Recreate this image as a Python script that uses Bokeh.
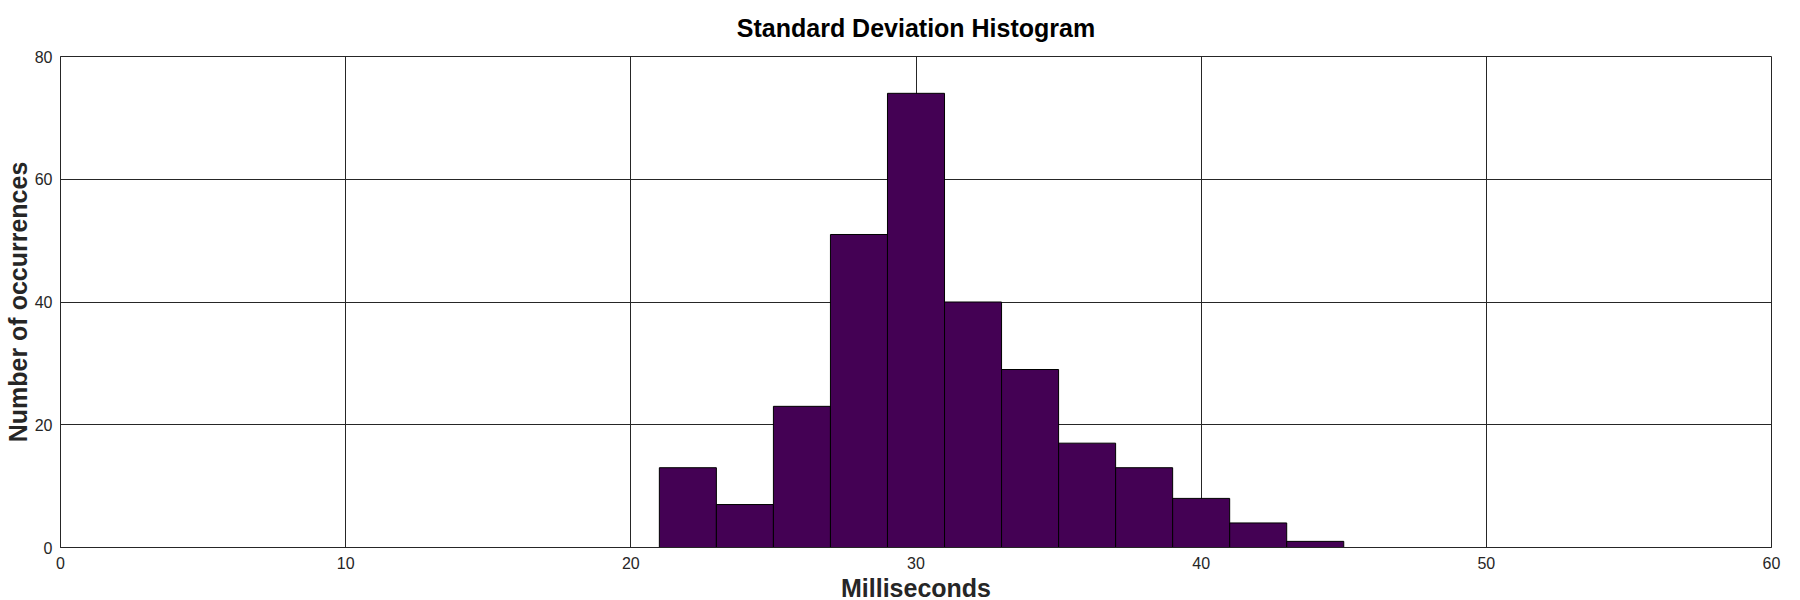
from bokeh.plotting import figure
from bokeh.models import Range1d, FixedTicker
from bokeh.embed import file_html
from bokeh.resources import INLINE

# Histogram data (bin edges in milliseconds, counts per bin)
bin_left = [21, 23, 25, 27, 29, 31, 33, 35, 37, 39, 41, 43]
bin_right = [23, 25, 27, 29, 31, 33, 35, 37, 39, 41, 43, 45]
counts = [13, 7, 23, 51, 74, 40, 29, 17, 13, 8, 4, 1]

x_ticks = [0, 10, 20, 30, 40, 50, 60]
y_ticks = [0, 20, 40, 60, 80]

FONT = "Liberation Sans"
TXT = "#262626"

p = figure(
    frame_width=1711, frame_height=491,
    x_range=Range1d(0, 60), y_range=Range1d(0, 80),
    output_backend="svg", toolbar_location=None,
    title="Standard Deviation Histogram",
    min_border_left=0, min_border_right=18, min_border_top=0, min_border_bottom=0,
)

p.quad(left=bin_left, right=bin_right, bottom=0, top=counts,
       fill_color="#440154", line_color="black", line_width=1)

p.title.align = "center"
p.title.vertical_align = "top"
p.title.text_font = FONT
p.title.text_font_size = "25px"
p.title.text_font_style = "bold"
p.title.text_color = "black"
p.title.text_line_height = 0.9
p.title.standoff = 26

p.xaxis.ticker = FixedTicker(ticks=x_ticks)
p.yaxis.ticker = FixedTicker(ticks=y_ticks)
p.xaxis.axis_label = "Milliseconds"
p.yaxis.axis_label = "Number of occurrences"

for ax in (p.xaxis, p.yaxis):
    ax.axis_label_text_font = FONT
    ax.axis_label_text_font_size = "25px"
    ax.axis_label_text_font_style = "bold"
    ax.axis_label_text_color = TXT
    ax.axis_label_standoff = 0
    ax.major_label_text_font = FONT
    ax.major_label_text_font_size = "16px"
    ax.major_label_text_color = TXT
    ax.major_tick_out = 0
    ax.major_tick_in = 0
    ax.minor_tick_out = 0
    ax.minor_tick_in = 0
    ax.axis_line_color = TXT
    ax.axis_line_width = 1

p.xaxis.major_label_standoff = 9
p.xaxis.axis_label_standoff = 2
p.yaxis.major_label_standoff = 8

p.xgrid.ticker = FixedTicker(ticks=x_ticks)
p.ygrid.ticker = FixedTicker(ticks=y_ticks)
for g in (p.xgrid, p.ygrid):
    g.grid_line_color = TXT
    g.grid_line_alpha = 1.0
    g.grid_line_width = 1

p.outline_line_color = TXT
p.outline_line_width = 1
p.outline_line_alpha = 1.0
p.background_fill_color = "white"
p.border_fill_color = "white"

open("out.html", "w").write(file_html(p, INLINE))
